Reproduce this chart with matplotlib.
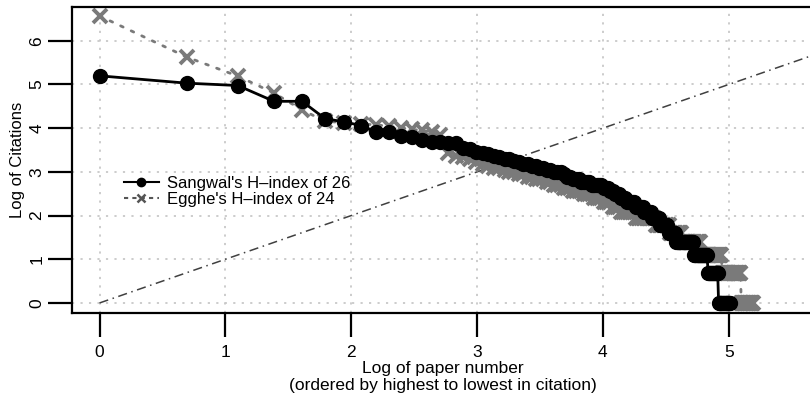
import numpy as np
import matplotlib
matplotlib.use('Agg')
import matplotlib.pyplot as plt
from matplotlib.lines import Line2D

plt.rcParams['font.family'] = ['Liberation Sans', 'DejaVu Sans']

# citations per paper, ordered from highest to lowest (rank 1, 2, 3, ...)
sangwal_cites = ([181, 153, 145, 101, 101, 68, 63, 58, 50, 50, 46, 45, 42,
                  40, 40, 39, 39, 35, 34, 32,
                  31, 30, 29, 28, 27, 27, 26, 25,
                  24, 24, 23, 23, 22, 22, 21, 21, 20, 20, 20,
                  19, 18, 18, 17, 17, 17, 16, 16, 16, 16]
                 + [15] * 5 + [14] * 3 + [13] * 2 + [12] * 3 + [11] * 3
                 + [10] * 5 + [9] * 5 + [8] * 5 + [7] * 5 + [6] * 6
                 + [5] * 6 + [4] * 15 + [3] * 13 + [2] * 11 + [1] * 14)

egghe_cites = ([713, 278, 180, 122, 83, 64, 62, 60, 59, 57, 55, 53, 52, 50, 47,
                31, 29, 28, 27, 25, 24,
                23, 22, 22, 21, 20, 20, 19, 19, 18,
                18, 17, 17, 17, 16, 16, 15, 15, 15, 14, 14, 14,
                13, 13, 13, 13, 12, 12, 12, 12, 11, 11, 11, 11, 10,
                10, 10, 10, 9, 9, 9, 9]
               + [8] * 8 + [7] * 12 + [6] * 10 + [5] * 10 + [4] * 16
               + [3] * 22 + [2] * 23 + [1] * 17)

sangwal_label = "Sangwal's H\u2013index of 26"
egghe_label = "Egghe's H\u2013index of 24"
x_ticks = [0, 1, 2, 3, 4, 5]
y_ticks = [0, 1, 2, 3, 4, 5, 6]

sangwal_x = np.log(np.arange(1, len(sangwal_cites) + 1))
sangwal_y = np.log(sangwal_cites)
egghe_x = np.log(np.arange(1, len(egghe_cites) + 1))
egghe_y = np.log(egghe_cites)

fig = plt.figure(figsize=(8.10, 4.01), dpi=100)
ax = fig.add_axes([0.089, 0.2195, 0.915, 0.763])

# grid
for t in x_ticks:
    ax.axvline(t, color='#c8c8c8', lw=1.3, ls=(0, (1.2, 3.5)), zorder=0)
for t in y_ticks:
    ax.axhline(t, color='#c8c8c8', lw=1.3, ls=(0, (1.2, 3.5)), zorder=0)

# reference line y = x
ax.plot([0, 7], [0, 7], color='#404040', lw=1.1,
        ls=(0, (6, 3, 1, 3)), zorder=1)

ax.plot(egghe_x, egghe_y, color='#7a7a7a', lw=2, ls=(0, (1, 3.2)),
        dash_capstyle='round', marker='x', markersize=10, mew=2.8, zorder=2)
ax.plot(sangwal_x, sangwal_y, color='black', lw=2, marker='o',
        markersize=10, zorder=3)

ax.set_xlim(-0.218, 5.672)
ax.set_ylim(-0.229, 6.773)
ax.set_xticks(x_ticks)
ax.set_yticks(y_ticks)
ax.tick_params(axis='both', length=17, width=1.6, labelsize=12.5, color='black')
ax.tick_params(axis='x', pad=6)
ax.tick_params(axis='y', pad=3)
for lab in ax.get_yticklabels():
    lab.set_rotation(90)
    lab.set_va('center')

for s in ['left', 'bottom', 'top']:
    ax.spines[s].set_linewidth(1.6)
ax.spines['right'].set_visible(False)

ax.set_xlabel("Log of paper number\n(ordered by highest to lowest in citation)",
              fontsize=12.5, labelpad=1, linespacing=1.1)
ax.set_ylabel("Log of Citations", fontsize=12, labelpad=3)

handles = [Line2D([], [], color='black', lw=1.5, marker='o', markersize=6),
           Line2D([], [], color='#555555', lw=1.5, ls=(0, (2, 2)), marker='x',
                  markersize=6, mew=1.8)]
ax.legend(handles, [sangwal_label, egghe_label], loc='upper left',
          bbox_to_anchor=(0.07, 0.447), frameon=False, fontsize=12,
          handlelength=2.1, handletextpad=0.5, labelspacing=0.05,
          borderpad=0, borderaxespad=0)

fig.savefig('out.png', dpi=100)
